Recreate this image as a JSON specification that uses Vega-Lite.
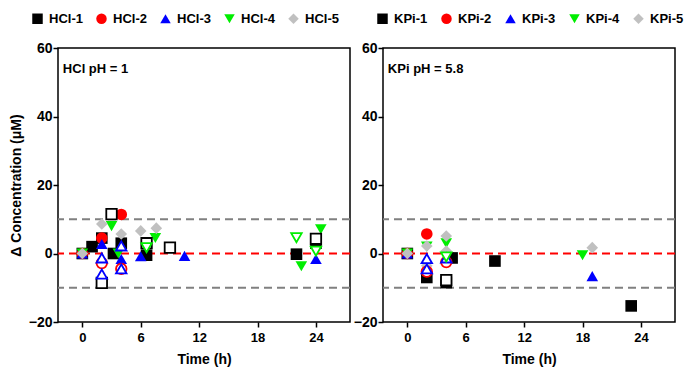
{
  "$schema": "https://vega.github.io/schema/vega-lite/v6.json",
  "background": "white",
  "padding": {"left": 8, "top": 11, "right": 2, "bottom": 5},
  "config": {
    "font": "Liberation Sans",
    "view": {"stroke": "black", "strokeWidth": 1.5},
    "axis": {
      "labelFont": "Liberation Sans", "labelFontWeight": "bold", "labelFontSize": 14, "labelColor": "black",
      "titleFont": "Liberation Sans", "titleFontWeight": "bold", "titleFontSize": 14, "titleColor": "black",
      "tickColor": "black", "tickWidth": 1.5, "domain": false, "grid": false, "labelPadding": 1
    },
    "legend": {
      "orient": "none", "direction": "horizontal", "title": null,
      "labelFont": "Liberation Sans", "labelFontSize": 13, "labelFontWeight": "bold", "labelColor": "black",
      "symbolSize": 110, "symbolStrokeWidth": 0, "labelOffset": 5, "columnPadding": 12
    },
    "concat": {"spacing": 33}
  },
  "bounds": "flush",
  "datasets": {
    "pts": [
      {"panel": "HCl", "series": "HCl-1", "t": 0, "dc": 0, "hollow": false},
      {"panel": "HCl", "series": "HCl-1", "t": 1, "dc": 2, "hollow": false},
      {"panel": "HCl", "series": "HCl-1", "t": 2, "dc": 4.5, "hollow": false},
      {"panel": "HCl", "series": "HCl-1", "t": 3.2, "dc": 0, "hollow": false},
      {"panel": "HCl", "series": "HCl-1", "t": 4, "dc": 3, "hollow": false},
      {"panel": "HCl", "series": "HCl-1", "t": 6.6, "dc": -0.5, "hollow": false},
      {"panel": "HCl", "series": "HCl-1", "t": 22, "dc": -0.2, "hollow": false},
      {"panel": "HCl", "series": "HCl-1", "t": 24, "dc": 3, "hollow": false},
      {"panel": "HCl", "series": "HCl-2", "t": 0, "dc": 0, "hollow": false},
      {"panel": "HCl", "series": "HCl-2", "t": 4, "dc": 11.4, "hollow": false},
      {"panel": "HCl", "series": "HCl-2", "t": 2, "dc": 4.5, "hollow": false},
      {"panel": "HCl", "series": "HCl-3", "t": 0, "dc": 0, "hollow": false},
      {"panel": "HCl", "series": "HCl-3", "t": 2, "dc": 2.8, "hollow": false},
      {"panel": "HCl", "series": "HCl-3", "t": 4, "dc": -1.6, "hollow": false},
      {"panel": "HCl", "series": "HCl-3", "t": 6, "dc": -0.8, "hollow": false},
      {"panel": "HCl", "series": "HCl-3", "t": 10.5, "dc": -0.7, "hollow": false},
      {"panel": "HCl", "series": "HCl-3", "t": 24, "dc": -1.6, "hollow": false},
      {"panel": "HCl", "series": "HCl-4", "t": 0, "dc": 0, "hollow": false},
      {"panel": "HCl", "series": "HCl-4", "t": 3, "dc": 8, "hollow": false},
      {"panel": "HCl", "series": "HCl-4", "t": 3.7, "dc": 0, "hollow": false},
      {"panel": "HCl", "series": "HCl-4", "t": 7.5, "dc": 4.5, "hollow": false},
      {"panel": "HCl", "series": "HCl-4", "t": 22.5, "dc": -3.7, "hollow": false},
      {"panel": "HCl", "series": "HCl-4", "t": 24.5, "dc": 7.1, "hollow": false},
      {"panel": "HCl", "series": "HCl-5", "t": 0, "dc": 0, "hollow": false},
      {"panel": "HCl", "series": "HCl-5", "t": 2, "dc": 8.6, "hollow": false},
      {"panel": "HCl", "series": "HCl-5", "t": 4, "dc": 5.7, "hollow": false},
      {"panel": "HCl", "series": "HCl-5", "t": 6, "dc": 6.6, "hollow": false},
      {"panel": "HCl", "series": "HCl-5", "t": 7.6, "dc": 7.4, "hollow": false},
      {"panel": "HCl", "series": "HCl-1", "t": 3, "dc": 11.5, "hollow": true},
      {"panel": "HCl", "series": "HCl-1", "t": 2, "dc": -8.6, "hollow": true},
      {"panel": "HCl", "series": "HCl-1", "t": 6.6, "dc": 3, "hollow": true},
      {"panel": "HCl", "series": "HCl-1", "t": 9, "dc": 1.7, "hollow": true},
      {"panel": "HCl", "series": "HCl-1", "t": 24, "dc": 4.3, "hollow": true},
      {"panel": "HCl", "series": "HCl-2", "t": 2, "dc": -2.8, "hollow": true},
      {"panel": "HCl", "series": "HCl-2", "t": 4, "dc": -4.5, "hollow": true},
      {"panel": "HCl", "series": "HCl-3", "t": 2, "dc": -1.3, "hollow": true},
      {"panel": "HCl", "series": "HCl-3", "t": 2, "dc": -6, "hollow": true},
      {"panel": "HCl", "series": "HCl-3", "t": 4, "dc": 2.2, "hollow": true},
      {"panel": "HCl", "series": "HCl-3", "t": 4, "dc": -4.5, "hollow": true},
      {"panel": "HCl", "series": "HCl-4", "t": 6.6, "dc": 1.7, "hollow": true},
      {"panel": "HCl", "series": "HCl-4", "t": 22, "dc": 4.6, "hollow": true},
      {"panel": "HCl", "series": "HCl-4", "t": 24, "dc": 0.7, "hollow": true},
      {"panel": "KPi", "series": "KPi-1", "t": 0, "dc": 0, "hollow": false},
      {"panel": "KPi", "series": "KPi-1", "t": 2, "dc": -7, "hollow": false},
      {"panel": "KPi", "series": "KPi-1", "t": 4, "dc": -8.5, "hollow": false},
      {"panel": "KPi", "series": "KPi-1", "t": 4.6, "dc": -1.3, "hollow": false},
      {"panel": "KPi", "series": "KPi-1", "t": 9, "dc": -2.2, "hollow": false},
      {"panel": "KPi", "series": "KPi-1", "t": 23, "dc": -15.3, "hollow": false},
      {"panel": "KPi", "series": "KPi-2", "t": 0, "dc": 0, "hollow": false},
      {"panel": "KPi", "series": "KPi-2", "t": 2, "dc": 5.7, "hollow": false},
      {"panel": "KPi", "series": "KPi-3", "t": 0, "dc": 0, "hollow": false},
      {"panel": "KPi", "series": "KPi-3", "t": 19, "dc": -6.6, "hollow": false},
      {"panel": "KPi", "series": "KPi-4", "t": 0, "dc": 0, "hollow": false},
      {"panel": "KPi", "series": "KPi-4", "t": 2, "dc": 2, "hollow": false},
      {"panel": "KPi", "series": "KPi-4", "t": 4, "dc": 3, "hollow": false},
      {"panel": "KPi", "series": "KPi-4", "t": 18, "dc": -0.5, "hollow": false},
      {"panel": "KPi", "series": "KPi-5", "t": 0, "dc": 0, "hollow": false},
      {"panel": "KPi", "series": "KPi-5", "t": 2, "dc": 2.2, "hollow": false},
      {"panel": "KPi", "series": "KPi-5", "t": 2, "dc": -3.6, "hollow": false},
      {"panel": "KPi", "series": "KPi-5", "t": 4, "dc": 5.1, "hollow": false},
      {"panel": "KPi", "series": "KPi-5", "t": 4, "dc": 0.7, "hollow": false},
      {"panel": "KPi", "series": "KPi-5", "t": 19, "dc": 1.7, "hollow": false},
      {"panel": "KPi", "series": "KPi-1", "t": 4, "dc": -7.8, "hollow": true},
      {"panel": "KPi", "series": "KPi-2", "t": 2, "dc": -5.3, "hollow": true},
      {"panel": "KPi", "series": "KPi-2", "t": 4, "dc": -2.5, "hollow": true},
      {"panel": "KPi", "series": "KPi-3", "t": 2, "dc": -1.5, "hollow": true},
      {"panel": "KPi", "series": "KPi-3", "t": 2, "dc": -4.5, "hollow": true},
      {"panel": "KPi", "series": "KPi-3", "t": 4, "dc": -1.3, "hollow": true},
      {"panel": "KPi", "series": "KPi-4", "t": 4, "dc": -1, "hollow": true}
    ],
    "greyRefs": [{"v": 10}, {"v": -10}],
    "redRefs": [{"v": 0}],
    "notes": [{"panel": "HCl", "label": "HCl pH = 1"}, {"panel": "KPi", "label": "KPi pH = 5.8"}]
  },
  "resolve": {
    "scale": {"color": "independent", "shape": "independent", "stroke": "independent"},
    "legend": {"color": "independent", "shape": "independent"}
  },
  "hconcat": [
    {
      "width": 292, "height": 274,
      "layer": [
        {
          "data": {"name": "greyRefs"},
          "mark": {"type": "rule", "color": "#808080", "strokeWidth": 2, "strokeDash": [8, 5]},
          "encoding": {"y": {"field": "v", "type": "quantitative", "scale": {"domain": [-20, 60], "nice": false, "zero": false}}}
        },
        {
          "data": {"name": "redRefs"},
          "mark": {"type": "rule", "color": "#ff0000", "strokeWidth": 2, "strokeDash": [8, 5]},
          "encoding": {"y": {"field": "v", "type": "quantitative", "scale": {"domain": [-20, 60], "nice": false, "zero": false}}}
        },
        {
          "data": {"name": "pts"},
          "transform": [{"filter": "datum.panel === 'HCl' && !datum.hollow"}],
          "mark": {"type": "point", "filled": true, "size": 135, "opacity": 1},
          "encoding": {
            "x": {"field": "t", "type": "quantitative", "scale": {"domain": [-2.5, 27.5], "nice": false, "zero": false},
              "axis": {"values": [0, 3, 6, 9, 12, 15, 18, 21, 24, 27], "labelExpr": "datum.value % 6 === 0 ? datum.label : ''",
                "tickSize": {"condition": {"test": "datum.value % 6 === 0", "value": 5}, "value": 3},
                "title": "Time (h)", "labelPadding": 4, "titlePadding": 8, "labelFontSize": 13}},
            "y": {"field": "dc", "type": "quantitative", "scale": {"domain": [-20, 60], "nice": false, "zero": false},
              "axis": {"values": [-20, -10, 0, 10, 20, 30, 40, 50, 60], "labelExpr": "datum.value % 20 === 0 ? datum.label : ''",
                "tickSize": {"condition": {"test": "datum.value % 20 === 0", "value": 5}, "value": 3},
                "title": "Δ Concentration (μM)", "titlePadding": 5}},
            "color": {"field": "series", "type": "nominal",
              "scale": {"domain": ["HCl-1", "HCl-2", "HCl-3", "HCl-4", "HCl-5"], "range": ["#000000", "#ff0000", "#0000ff", "#00ee00", "#c0c0c0"]},
              "legend": {"legendX": -27, "legendY": -36}},
            "shape": {"field": "series", "type": "nominal",
              "scale": {"domain": ["HCl-1", "HCl-2", "HCl-3", "HCl-4", "HCl-5"], "range": ["square", "circle", "triangle-up", "triangle-down", "diamond"]},
              "legend": {"legendX": -27, "legendY": -36}}
          }
        },
        {
          "data": {"name": "pts"},
          "transform": [{"filter": "datum.panel === 'HCl' && datum.hollow"}],
          "mark": {"type": "point", "filled": true, "fill": "white", "size": 110, "strokeWidth": 1.8, "opacity": 1},
          "encoding": {
            "x": {"field": "t", "type": "quantitative"},
            "y": {"field": "dc", "type": "quantitative"},
            "stroke": {"field": "series", "type": "nominal",
              "scale": {"domain": ["HCl-1", "HCl-2", "HCl-3", "HCl-4", "HCl-5"], "range": ["#000000", "#ff0000", "#0000ff", "#00ee00", "#c0c0c0"]},
              "legend": null},
            "shape": {"field": "series", "type": "nominal"}
          }
        },
        {
          "data": {"name": "notes"},
          "transform": [{"filter": "datum.panel === 'HCl'"}],
          "mark": {"type": "text", "align": "left", "baseline": "middle", "fontWeight": "bold", "fontSize": 13, "color": "black"},
          "encoding": {
            "x": {"datum": -2, "type": "quantitative"},
            "y": {"datum": 54, "type": "quantitative"},
            "text": {"field": "label"}
          }
        }
      ]
    },
    {
      "width": 292, "height": 274,
      "layer": [
        {
          "data": {"name": "greyRefs"},
          "mark": {"type": "rule", "color": "#808080", "strokeWidth": 2, "strokeDash": [8, 5]},
          "encoding": {"y": {"field": "v", "type": "quantitative", "scale": {"domain": [-20, 60], "nice": false, "zero": false}}}
        },
        {
          "data": {"name": "redRefs"},
          "mark": {"type": "rule", "color": "#ff0000", "strokeWidth": 2, "strokeDash": [8, 5]},
          "encoding": {"y": {"field": "v", "type": "quantitative", "scale": {"domain": [-20, 60], "nice": false, "zero": false}}}
        },
        {
          "data": {"name": "pts"},
          "transform": [{"filter": "datum.panel === 'KPi' && !datum.hollow"}],
          "mark": {"type": "point", "filled": true, "size": 135, "opacity": 1},
          "encoding": {
            "x": {"field": "t", "type": "quantitative", "scale": {"domain": [-2.5, 27.5], "nice": false, "zero": false},
              "axis": {"values": [0, 3, 6, 9, 12, 15, 18, 21, 24, 27], "labelExpr": "datum.value % 6 === 0 ? datum.label : ''",
                "tickSize": {"condition": {"test": "datum.value % 6 === 0", "value": 5}, "value": 3},
                "title": "Time (h)", "labelPadding": 4, "titlePadding": 8, "labelFontSize": 13}},
            "y": {"field": "dc", "type": "quantitative", "scale": {"domain": [-20, 60], "nice": false, "zero": false},
              "axis": {"values": [-20, -10, 0, 10, 20, 30, 40, 50, 60], "labelExpr": "datum.value % 20 === 0 ? datum.label : ''",
                "tickSize": {"condition": {"test": "datum.value % 20 === 0", "value": 5}, "value": 3},
                "title": null}},
            "color": {"field": "series", "type": "nominal",
              "scale": {"domain": ["KPi-1", "KPi-2", "KPi-3", "KPi-4", "KPi-5"], "range": ["#000000", "#ff0000", "#0000ff", "#00ee00", "#c0c0c0"]},
              "legend": {"legendX": -7, "legendY": -36}},
            "shape": {"field": "series", "type": "nominal",
              "scale": {"domain": ["KPi-1", "KPi-2", "KPi-3", "KPi-4", "KPi-5"], "range": ["square", "circle", "triangle-up", "triangle-down", "diamond"]},
              "legend": {"legendX": -7, "legendY": -36}}
          }
        },
        {
          "data": {"name": "pts"},
          "transform": [{"filter": "datum.panel === 'KPi' && datum.hollow"}],
          "mark": {"type": "point", "filled": true, "fill": "white", "size": 110, "strokeWidth": 1.8, "opacity": 1},
          "encoding": {
            "x": {"field": "t", "type": "quantitative"},
            "y": {"field": "dc", "type": "quantitative"},
            "stroke": {"field": "series", "type": "nominal",
              "scale": {"domain": ["KPi-1", "KPi-2", "KPi-3", "KPi-4", "KPi-5"], "range": ["#000000", "#ff0000", "#0000ff", "#00ee00", "#c0c0c0"]},
              "legend": null},
            "shape": {"field": "series", "type": "nominal"}
          }
        },
        {
          "data": {"name": "notes"},
          "transform": [{"filter": "datum.panel === 'KPi'"}],
          "mark": {"type": "text", "align": "left", "baseline": "middle", "fontWeight": "bold", "fontSize": 13, "color": "black"},
          "encoding": {
            "x": {"datum": -2, "type": "quantitative"},
            "y": {"datum": 54, "type": "quantitative"},
            "text": {"field": "label"}
          }
        }
      ]
    }
  ]
}
